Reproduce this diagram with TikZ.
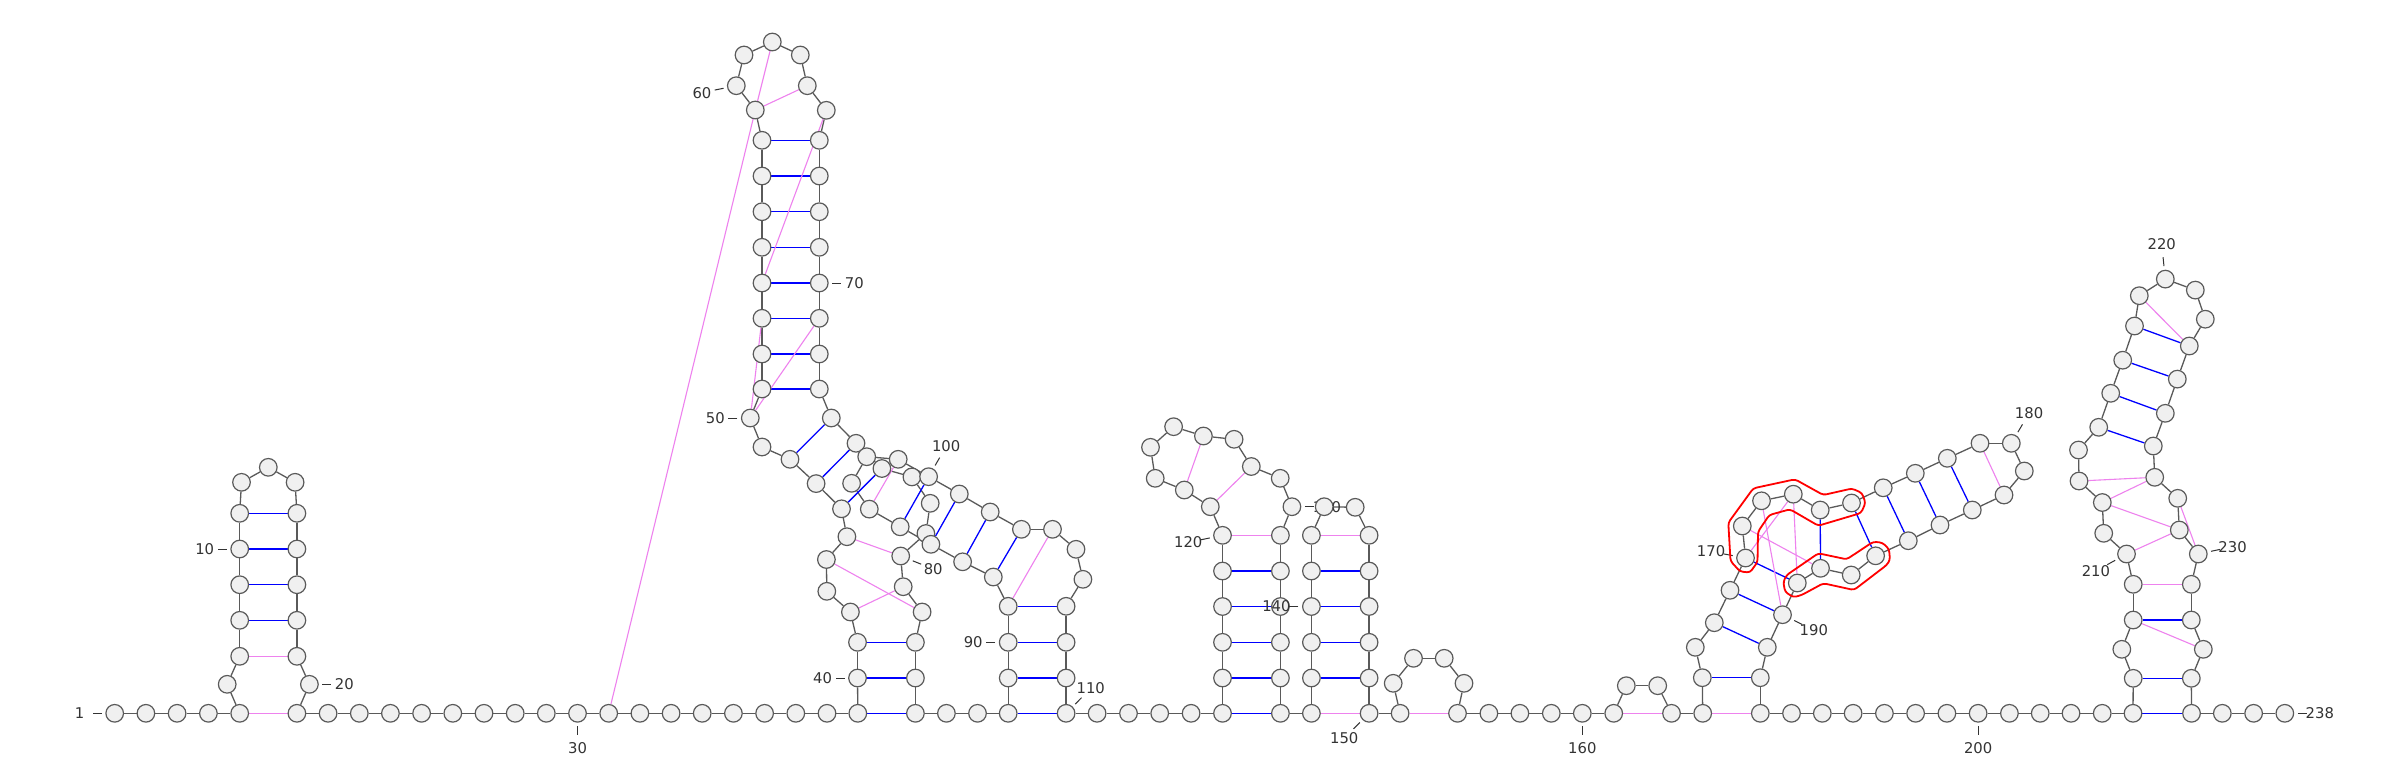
\documentclass[tikz,border=0pt]{standalone}
\usepackage{fontspec}
\setmainfont{DejaVu Sans}
\usetikzlibrary{calc}
\pgfdeclarelayer{bg}
\pgfsetlayers{bg,main}
\definecolor{ndraw}{HTML}{5A5A5A}
\definecolor{nfill}{HTML}{F0F0F0}
\definecolor{pk}{HTML}{EE82EE}
\definecolor{lb}{HTML}{333333}
\tikzset{
 nuc/.style={circle,draw=ndraw,fill=nfill,line width=1.2pt,minimum size=17.6pt,inner sep=0pt},
 bb/.style={draw=ndraw,line width=1.3pt},
 bpb/.style={draw=blue,line width=1.3pt},
 bpp/.style={draw=pk,line width=1.1pt},
 tk/.style={draw=lb,line width=1pt},
 lt/.style={text=lb,inner sep=0pt,font=\fontsize{14.8}{17}\selectfont},
 hl/.style={draw=red,line width=1.8pt,rounded corners=3pt}
}
\newcommand{\nlab}[3]{%
 \draw[tk] ($(n#1.center)+(#2:13pt)$) -- ($(n#1.center)+(#2:22pt)$);
 \node[lt] (l#1) at ($(n#1.center)+(#2:35pt)$) {#3};}
\begin{document}
\begin{tikzpicture}[x=1pt,y=-1pt]
\useasboundingbox (0,0) rectangle (2400,756);
% nodes 1-130
\foreach \i/\x/\y in {1/114.7/713.3, 2/145.9/713.3, 3/177.1/713.3, 4/208.4/713.3, 5/239.7/713.3, 6/227.2/684.3, 7/239.7/656.3, 8/239.7/620.3, 9/239.7/584.7, 10/239.7/549, 11/239.7/513.3, 12/241.5/482.3, 13/268.3/467.3, 14/295.1/482.3, 15/296.9/513.3, 16/296.9/549, 17/296.9/584.7, 18/296.9/620.3, 19/296.9/656.3, 20/309.4/684.3, 21/296.9/713.3, 22/328.1/713.3, 23/359.3/713.3, 24/390.4/713.3, 25/421.6/713.3, 26/452.8/713.3, 27/484.0/713.3, 28/515.2/713.3, 29/546.3/713.3, 30/577.5/713.3, 31/608.7/713.3, 32/639.9/713.3, 33/671.1/713.3, 34/702.2/713.3, 35/733.4/713.3, 36/764.6/713.3, 37/795.8/713.3, 38/827.0/713.3, 39/857.8/713.3, 40/857.5/678, 41/857.5/642.3, 42/850.4/612, 43/826.8/591.3, 44/826.4/559.5, 45/846.9/536.7, 46/841.5/508.8, 47/816.1/483.6, 48/790/459.3, 49/762/447, 50/750.3/418, 51/762/389, 52/762/354, 53/762/318.3, 54/762/283, 55/762/247.3, 56/762/211.7, 57/762/176, 58/762/140.3, 59/755.3/110, 60/736.3/85.7, 61/744/55, 62/772.3/42, 63/800.3/55, 64/807.3/85.7, 65/826.3/110.3, 66/819.3/140.3, 67/819.3/176, 68/819.3/211.7, 69/819.3/247.3, 70/819.3/283, 71/819.3/318.3, 72/819.3/354, 73/819.3/389, 74/831.3/418, 75/856/443.3, 76/881.9/468.5, 77/911.9/476.9, 78/930.2/503.3, 79/925.9/533.5, 80/900.7/556, 81/903.2/586.7, 82/922.1/612, 83/915.4/642.3, 84/915.4/678, 85/915.4/713.3, 86/946.4/713.3, 87/977.5/713.3, 88/1008.2/713.3, 89/1008.2/678, 90/1008.2/642.3, 91/1008.2/606.3, 92/993.3/577, 93/962.6/561.8, 94/930.9/544.3, 95/900.2/526.8, 96/869.3/509.1, 97/851.6/483.3, 98/866.7/456.7, 99/898.2/459.3, 100/928.6/476.7, 101/959.3/494, 102/990.2/512, 103/1021.4/529.3, 104/1052.5/529.3, 105/1076/549.3, 106/1082.9/579.3, 107/1066.1/606.3, 108/1066.1/642.3, 109/1066.1/678, 110/1066.1/713.3, 111/1097.1/713.3, 112/1128.5/713.3, 113/1159.7/713.3, 114/1191.1/713.3, 115/1222.5/713.3, 116/1222.5/678, 117/1222.5/642.3, 118/1222.5/606.5, 119/1222.5/571, 120/1222.5/535.3, 121/1210.3/506.7, 122/1184.3/490, 123/1155.2/478.3, 124/1150.5/447.3, 125/1173.6/426.7, 126/1203.4/436, 127/1234.1/439.3, 128/1251.3/466.5, 129/1280.2/478.3, 130/1291.9/506.7}
 {\node[nuc] (n\i) at (\x,\y) {};}
\nlab{1}{180}{1}
\nlab{10}{180}{10}
\nlab{20}{0}{20}
\nlab{30}{-90}{30}
\nlab{40}{180}{40}
\nlab{50}{180}{50}
\nlab{60}{191.4}{60}
\nlab{70}{0}{70}
\nlab{80}{-21.8}{80}
\nlab{90}{180}{90}
\nlab{100}{59.9}{100}
\nlab{110}{45.3}{110}
\nlab{120}{191.7}{120}
\nlab{130}{0}{130}
% nodes 131-238
\foreach \i/\x/\y in {131/1280.4/535.3, 132/1280.4/571, 133/1280.4/606.5, 134/1280.4/642.3, 135/1280.4/678, 136/1280.4/713.3, 137/1311.4/713.3, 138/1311.4/678, 139/1311.4/642.3, 140/1311.4/606.5, 141/1311.4/571, 142/1311.4/535.3, 143/1324.2/506.7, 144/1355.2/507.3, 145/1369.1/535.3, 146/1369.1/571, 147/1369.1/606.5, 148/1369.1/642.3, 149/1369.1/678, 150/1369.1/713.3, 151/1400.1/713.3, 152/1393.2/683.3, 153/1413.5/658.3, 154/1444.2/658.3, 155/1464/683.3, 156/1457.5/713.3, 157/1488.9/713.3, 158/1519.9/713.3, 159/1551.3/713.3, 160/1582.3/713.3, 161/1613.7/713.3, 162/1626.3/685.7, 163/1657.7/685.7, 164/1671.5/713.3, 165/1702.7/713.3, 166/1702.3/677.7, 167/1695.3/647.3, 168/1714.3/622.7, 169/1730/590.3, 170/1745.5/558, 171/1742.3/526, 172/1761.5/500.8, 173/1793.3/494.2, 174/1820.2/510, 175/1851.5/503, 176/1883.2/487.8, 177/1915.3/473.3, 178/1947.3/458.3, 179/1980/443.3, 180/2011.3/443.3, 181/2024.3/471, 182/2004/495, 183/1972.3/510, 184/1940/525, 185/1908.3/540.7, 186/1875.6/555.8, 187/1851.2/575, 188/1820.5/568.3, 189/1797.3/583, 190/1782.5/614.7, 191/1767.3/647.3, 192/1760.3/677.7, 193/1760.3/713.3, 194/1791.5/713.3, 195/1822.3/713.3, 196/1853.1/713.3, 197/1884.4/713.3, 198/1915.6/713.3, 199/1946.9/713.3, 200/1978.1/713.3, 201/2009.4/713.3, 202/2040.2/713.3, 203/2071/713.3, 204/2102.2/713.3, 205/2133/713.3, 206/2133.2/678.3, 207/2121.8/649.3, 208/2133.2/620, 209/2133.2/584.3, 210/2126.5/554, 211/2103.7/533.3, 212/2102.3/502.5, 213/2079/481, 214/2078.5/450, 215/2098.7/427.3, 216/2110.7/393.3, 217/2122.7/360.2, 218/2134.5/326, 219/2139.3/295.7, 220/2165.3/279.1, 221/2195.3/290.1, 222/2205.3/319.2, 223/2189.3/346, 224/2177.3/379.1, 225/2165.3/413.3, 226/2153.3/446, 227/2154.7/477.3, 228/2177.7/498.3, 229/2179.3/530, 230/2198.3/554, 231/2191.3/584.3, 232/2191.3/620, 233/2203.3/649.3, 234/2191.3/678.3, 235/2191.5/713.3, 236/2222.3/713.3, 237/2253.6/713.3, 238/2284.8/713.3}
 {\node[nuc] (n\i) at (\x,\y) {};}
\nlab{140}{180}{140}
\nlab{150}{224.8}{150}
\nlab{160}{-90}{160}
\nlab{170}{169.4}{170}
\nlab{180}{59.5}{180}
\nlab{190}{-26.4}{190}
\nlab{200}{-90}{200}
\nlab{210}{209}{210}
\nlab{220}{95.9}{220}
\nlab{230}{12}{230}
\nlab{238}{0}{238}
% connectors under the nodes
\begin{pgfonlayer}{bg}
\fill[white] (0,0) rectangle (2400,756);
\foreach \i [evaluate=\i as \j using int(\i+1)] in {1,...,237}
 {\draw[bb] (n\i) -- (n\j);}
\foreach \a/\b in {8/18, 9/17, 10/16, 11/15, 39/85, 40/84, 41/83, 46/76, 47/75, 48/74, 51/73, 52/72, 53/71, 54/70, 55/69, 56/68, 57/67, 58/66, 88/110, 89/109, 90/108, 91/107, 92/103, 93/102, 94/101, 95/100, 115/136, 116/135, 117/134, 118/133, 119/132, 138/149, 139/148, 140/147, 141/146, 166/192, 168/191, 169/190, 170/189, 174/188, 175/186, 176/185, 177/184, 178/183, 205/235, 206/234, 208/232, 215/226, 216/225, 217/224, 218/223}
 {\draw[bpb] (n\a) -- (n\b);}
\foreach \a/\b in {5/21, 7/19, 31/59, 42/81, 44/82, 45/80, 50/53, 50/71, 54/65, 59/62, 59/64, 91/104, 96/99, 120/131, 121/128, 122/126, 137/150, 142/145, 151/156, 161/164, 165/193, 170/173, 171/188, 172/190, 173/189, 179/182, 208/233, 209/231, 210/229, 212/229, 212/227, 213/227, 228/230, 219/223}
 {\draw[bpp] (n\a) -- (n\b);}
\end{pgfonlayer}
% highlighted regions
\draw[hl] (1753.3,488.3) -- (1795,479.3) -- (1823.3,495) -- (1852,488.5) -- (1862,493) -- (1865.5,503) -- (1861,513) -- (1818.3,525.7) -- (1790,509.3) -- (1769.3,515) -- (1758,531.7) -- (1757.5,562) -- (1750,572.5) -- (1740,571.5) -- (1730.5,561) -- (1728.3,522.7) -- cycle;
\draw[hl] (1818.3,553.3) -- (1846.7,559.3) -- (1873.3,541.7) -- (1882.5,542.7) -- (1889,549) -- (1890,560) -- (1886.7,565) -- (1854,590) -- (1823.3,583.3) -- (1801.7,595) -- (1793.3,597.3) -- (1785,591.7) -- (1783.3,581.7) -- (1786.7,575) -- cycle;
\end{tikzpicture}
\end{document}
